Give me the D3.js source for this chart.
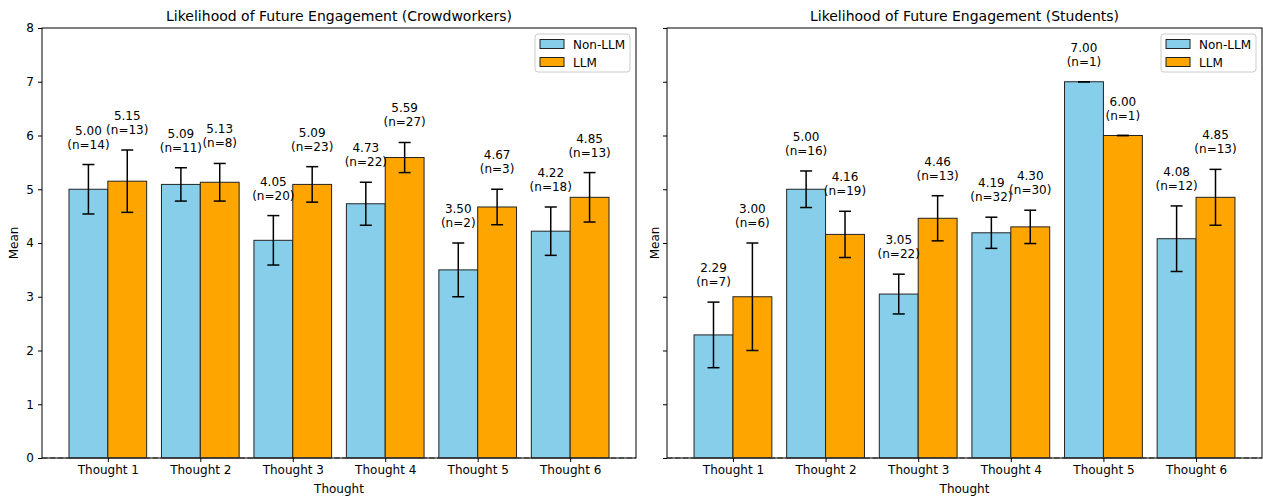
<!DOCTYPE html>
<html><head><meta charset="utf-8">
<script src="https://cdn.jsdelivr.net/npm/d3@7"></script>
<style>body{margin:0;background:#fff}svg{display:block;font-family:"DejaVu Sans",sans-serif}</style>
</head><body>
<svg id="c" width="1263" height="500"></svg>
<script>
const thoughts = ["Thought 1","Thought 2","Thought 3","Thought 4","Thought 5","Thought 6"];
const seriesNames = ["Non-LLM","LLM"];
const yTicks = [0,1,2,3,4,5,6,7,8];

const crowdNonLLM = [5.00,5.09,4.05,4.73,3.50,4.22];
const crowdNonLLMErr = [0.46,0.31,0.46,0.40,0.50,0.45];
const crowdNonLLMN = [14,11,20,22,2,18];
const crowdLLM = [5.15,5.13,5.09,5.59,4.67,4.85];
const crowdLLMErr = [0.58,0.35,0.33,0.28,0.33,0.46];
const crowdLLMN = [13,8,23,27,3,13];

const studNonLLM = [2.29,5.00,3.05,4.19,7.00,4.08];
const studNonLLMErr = [0.61,0.34,0.37,0.29,0,0.61];
const studNonLLMN = [7,16,22,32,1,12];
const studLLM = [3.00,4.16,4.46,4.30,6.00,4.85];
const studLLMErr = [1.00,0.43,0.42,0.31,0,0.52];
const studLLMN = [6,19,13,30,1,13];

(function(){
const colors = ["#87CEEB","#FFA500"];
const panels = [
  {title:"Likelihood of Future Engagement (Crowdworkers)", left:42, right:636, showY:true,
   series:[{m:crowdNonLLM,e:crowdNonLLMErr,n:crowdNonLLMN},{m:crowdLLM,e:crowdLLMErr,n:crowdLLMN}]},
  {title:"Likelihood of Future Engagement (Students)", left:667, right:1262, showY:false,
   series:[{m:studNonLLM,e:studNonLLMErr,n:studNonLLMN},{m:studLLM,e:studLLMErr,n:studLLMN}]}
];
const pTop=28, pBottom=458, bw=0.42;
const svg = d3.select("#c");
const y = d3.scaleLinear().domain([0,8]).range([pBottom,pTop]);

panels.forEach(p=>{
  const x = d3.scaleLinear().domain([-0.712,5.712]).range([p.left,p.right]);
  const g = svg.append("g");
  p.series.forEach((s,si)=>{
    g.selectAll(null).data(s.m).enter().append("rect")
      .attr("x",(d,i)=>x(i + (si===0 ? -bw : 0)))
      .attr("width",x(bw)-x(0))
      .attr("y",d=>y(d)).attr("height",d=>y(0)-y(d))
      .attr("fill",colors[si]).attr("stroke","#222").attr("stroke-width",1);
  });
  p.series.forEach((s,si)=>{
    s.m.forEach((d,i)=>{
      const cx = x(i + (si===0 ? -bw/2 : bw/2));
      const e = s.e[i];
      g.append("line").attr("x1",cx).attr("x2",cx).attr("y1",y(d-e)).attr("y2",y(d+e)).attr("stroke","#000").attr("stroke-width",1.5);
      [d-e,d+e].forEach(v=>g.append("line").attr("x1",cx-6).attr("x2",cx+6).attr("y1",y(v)).attr("y2",y(v)).attr("stroke","#000").attr("stroke-width",1.5));
      const t = g.append("text").attr("x",cx).attr("text-anchor","middle").attr("font-size",12).attr("fill","#000");
      t.append("tspan").attr("x",cx).attr("y",y(d+e)-30).text(d.toFixed(2));
      t.append("tspan").attr("x",cx).attr("y",y(d+e)-16).text("(n="+s.n[i]+")");
    });
  });
  g.append("line").attr("x1",p.left).attr("x2",p.right).attr("y1",y(0)).attr("y2",y(0))
    .attr("stroke","#808080").attr("stroke-width",1.5).attr("stroke-dasharray","5.5,2.4");
  g.append("rect").attr("x",p.left).attr("y",pTop).attr("width",p.right-p.left).attr("height",pBottom-pTop)
    .attr("fill","none").attr("stroke","#000").attr("stroke-width",1);
  const xa = d3.axisBottom(x).tickValues(d3.range(thoughts.length)).tickFormat(i=>thoughts[i]).tickSize(4).tickPadding(3);
  const gx = g.append("g").attr("transform",`translate(0,${pBottom})`).call(xa);
  gx.select(".domain").remove();
  gx.selectAll("text").attr("font-size",12).attr("font-family","DejaVu Sans").attr("fill","#000");
  const ya = d3.axisLeft(y).tickValues(yTicks).tickFormat(p.showY ? d3.format("d") : "").tickSize(4).tickPadding(4);
  const gy = g.append("g").attr("transform",`translate(${p.left},0)`).call(ya);
  gy.select(".domain").remove();
  gy.selectAll("text").attr("font-size",12).attr("font-family","DejaVu Sans").attr("fill","#000");
  const cxm = (p.left+p.right)/2;
  g.append("text").attr("x",cxm).attr("y",21).attr("text-anchor","middle").attr("font-size",14).text(p.title);
  g.append("text").attr("x",cxm).attr("y",493).attr("text-anchor","middle").attr("font-size",12).text("Thought");
  const yl = p.showY ? p.left-24 : p.left-8;
  g.append("text").attr("transform",`translate(${yl},${(pTop+pBottom)/2}) rotate(-90)`).attr("text-anchor","middle").attr("font-size",12).text("Mean");
  const lg = g.append("g");
  const box = lg.append("rect").attr("rx",3).attr("fill","#fff").attr("fill-opacity",0.8).attr("stroke","#ccc");
  const texts = [];
  seriesNames.forEach((nm,i)=>{
    const row = lg.append("g").attr("transform",`translate(0,${i*18})`);
    row.append("rect").attr("x",0).attr("y",-4.5).attr("width",24).attr("height",9).attr("fill",colors[i]).attr("stroke","#222");
    texts.push(row.append("text").attr("x",33).attr("y",4.5).attr("font-size",12).text(nm));
  });
  const tw = d3.max(texts, t=>t.node().getComputedTextLength());
  const bwid = 5+24+9+tw+5, bh = 38;
  const bx = p.right-6-bwid, by = pTop+6;
  lg.attr("transform",`translate(${bx+5},${by+10})`);
  box.attr("x",-5).attr("y",-10).attr("width",bwid).attr("height",bh);
});
})();
</script>
</body></html>
